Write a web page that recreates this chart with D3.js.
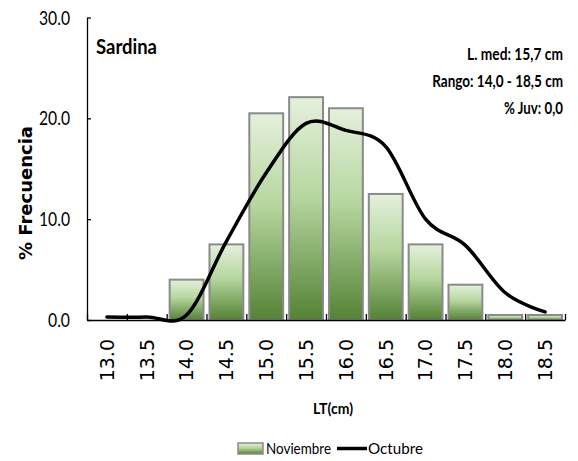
<!DOCTYPE html>
<html>
<head>
<meta charset="utf-8">
<script src="https://cdn.jsdelivr.net/npm/d3@7"></script>
<style>
  body { margin: 0; background: #fff; }
  .narrow { font-family: Lato, "Liberation Sans", sans-serif; }
</style>
</head>
<body>
<svg id="chart" width="578" height="461"></svg>
<script>
// size classes (LT, cm)
var tallas = ["13.0","13.5","14.0","14.5","15.0","15.5","16.0","16.5","17.0","17.5","18.0","18.5"];
// % frecuencia, bars
var noviembre = [0, 0, 4.0, 7.5, 20.5, 22.1, 21.0, 12.5, 7.5, 3.5, 0.5, 0.5];
// % frecuencia, smoothed line
var octubre = [0.3, 0.3, 0.5, 7.8, 14.6, 19.5, 18.8, 17.2, 10.0, 7.4, 2.7, 0.8];
var yTicks = [0, 10, 20, 30];
var infoLines = ["L. med: 15,7 cm", "Rango: 14,0 - 18,5 cm", "% Juv: 0,0"];
var infoWidths = [96, 131, 59];

var margin = {top: 17.5, left: 87},
    width = 565 - 87,
    height = 320 - 17.5;

var svg = d3.select("#chart");

// squeeze a text horizontally (Calibri-like narrow look) around its anchor
function squeeze(sel, tx, ty, w) {
  var len = sel.node().getComputedTextLength();
  var s = Math.min(1, w / len);
  sel.attr("x", 0).attr("y", 0)
     .attr("transform", "translate(" + tx + "," + ty + ") scale(" + s + ",1)");
}

// gradient for the bars (light top, dark green bottom)
var defs = svg.append("defs");
var grad = defs.append("linearGradient")
    .attr("id", "verde")
    .attr("x1", 0).attr("y1", 0).attr("x2", 0).attr("y2", 1);
grad.append("stop").attr("offset", "0%").attr("stop-color", "#e4f0dc");
grad.append("stop").attr("offset", "45%").attr("stop-color", "#b5d69e");
grad.append("stop").attr("offset", "100%").attr("stop-color", "#548235");

var g = svg.append("g")
    .attr("transform", "translate(" + margin.left + "," + margin.top + ")");

var x = d3.scaleBand()
    .domain(tallas)
    .range([0, width])
    .paddingInner(0.15)
    .paddingOuter(0.075);

var xb = d3.scaleLinear().domain([0, tallas.length]).range([0, width]);

var y = d3.scaleLinear()
    .domain([0, 30])
    .range([height, 0]);

// bars
g.selectAll("rect.barra")
    .data(noviembre)
    .enter()
    .append("rect")
    .attr("class", "barra")
    .attr("x", function(d, i) { return x(tallas[i]); })
    .attr("y", function(d) { return y(d); })
    .attr("width", x.bandwidth())
    .attr("height", function(d) { return y(0) - y(d); })
    .attr("fill", "url(#verde)")
    .attr("stroke", "#8a8a8a")
    .attr("stroke-width", 2)
    .style("display", function(d) { return d > 0 ? null : "none"; });

// y axis
var yAxis = g.append("g")
    .call(d3.axisLeft(y).tickValues(yTicks).tickSizeInner(-4).tickSizeOuter(0).tickPadding(17)
        .tickFormat(d3.format(".1f")));
yAxis.select(".domain").attr("stroke", "#000").attr("stroke-width", 1.3);
yAxis.selectAll(".tick line").attr("stroke", "#000").attr("stroke-width", 1.3);
yAxis.selectAll("text")
    .attr("class", "narrow")
    .style("font-size", "19px")
    .attr("fill", "#000")
    .each(function(d) {
      var t = d3.select(this);
      t.attr("dy", null);
      squeeze(t, -17, 6.5, d < 10 ? 22 : 31);
    });

// x axis: boundary ticks
var xAxis = g.append("g")
    .attr("transform", "translate(0," + height + ")")
    .call(d3.axisBottom(xb).tickValues(d3.range(tallas.length + 1)).tickSizeInner(-6).tickSizeOuter(0).tickFormat(""));
xAxis.select(".domain").attr("stroke", "#000").attr("stroke-width", 1.3);
xAxis.selectAll(".tick line").attr("stroke", "#000").attr("stroke-width", 1.3);

// x labels, rotated
g.selectAll("text.xl")
    .data(tallas)
    .enter()
    .append("text")
    .attr("class", "xl")
    .attr("transform", function(d) { return "translate(" + (x(d) + x.bandwidth() / 2) + "," + (height + 19) + ") rotate(-90)"; })
    .attr("text-anchor", "end")
    .attr("dy", "0.36em")
    .style("font-family", "'DejaVu Sans', Verdana, sans-serif")
    .style("font-size", "19px")
    .text(function(d) { return d; });

// smoothed line
var linea = d3.line()
    .x(function(d, i) { return x(tallas[i]) + x.bandwidth() / 2; })
    .y(function(d) { return y(d); })
    .curve(d3.curveCatmullRom.alpha(0));

g.append("path")
    .datum(octubre)
    .attr("d", linea)
    .attr("fill", "none")
    .attr("stroke", "#000")
    .attr("stroke-width", 3.5)
    .attr("stroke-linecap", "round");

// title and info
var titulo = svg.append("text")
    .attr("class", "narrow")
    .style("font-size", "21px")
    .style("font-weight", "bold")
    .text("Sardina");
squeeze(titulo, 96, 54, 61);

svg.selectAll("text.info")
    .data(infoLines)
    .enter()
    .append("text")
    .attr("class", "narrow info")
    .attr("text-anchor", "end")
    .style("font-size", "17.5px")
    .style("font-weight", "bold")
    .text(function(d) { return d; })
    .each(function(d, i) {
      squeeze(d3.select(this), 563, 59.5 + i * 27, infoWidths[i]);
    });

// axis titles
svg.append("text")
    .attr("transform", "translate(32,193) rotate(-90)")
    .attr("text-anchor", "middle")
    .style("font-family", "'DejaVu Sans', Verdana, sans-serif")
    .style("font-size", "18px")
    .style("font-weight", "bold")
    .text("% Frecuencia");

var xTitulo = svg.append("text")
    .attr("class", "narrow")
    .attr("text-anchor", "middle")
    .style("font-size", "16px")
    .style("font-weight", "bold")
    .text("LT(cm)");
squeeze(xTitulo, 333, 414, 40);

// legend
var leg = svg.append("g").attr("transform", "translate(238,443)");
leg.append("rect")
    .attr("width", 25).attr("height", 11)
    .attr("fill", "url(#verde)")
    .attr("stroke", "#8a8a8a").attr("stroke-width", 1.5);
var tNov = leg.append("text")
    .attr("class", "narrow")
    .style("font-size", "16px")
    .text("Noviembre");
squeeze(tNov, 28, 11, 65);
leg.append("line")
    .attr("x1", 99).attr("x2", 129).attr("y1", 5.5).attr("y2", 5.5)
    .attr("stroke", "#000").attr("stroke-width", 3.5);
var tOct = leg.append("text")
    .attr("class", "narrow")
    .style("font-size", "16px")
    .text("Octubre");
squeeze(tOct, 130, 11, 55);
</script>
</body>
</html>
